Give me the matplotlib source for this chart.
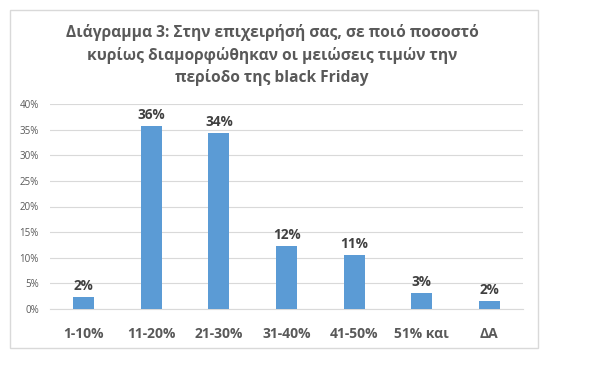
import matplotlib.pyplot as plt
from matplotlib.patches import Rectangle
from matplotlib.ticker import PercentFormatter

plt.rcParams['font.family'] = ['Open Sans', 'DejaVu Sans']

categories = ['1-10%', '11-20%', '21-30%', '31-40%', '41-50%', '51% και', 'ΔΑ']
values = [0.023, 0.357, 0.344, 0.123, 0.106, 0.031, 0.015]
labels = ['2%', '36%', '34%', '12%', '11%', '3%', '2%']
yticks = [0, 0.05, 0.10, 0.15, 0.20, 0.25, 0.30, 0.35, 0.40]

title = ('Διάγραμμα 3: Στην επιχειρήσή σας, σε ποιό ποσοστό\n'
         'κυρίως διαμορφώθηκαν οι μειώσεις τιμών την\n'
         'περίοδο της black Friday')

fig = plt.figure(figsize=(5.96, 3.69), dpi=100)
fig.patches.append(Rectangle((10 / 596, 1 - 348 / 369), 528 / 596, 338 / 369,
                             transform=fig.transFigure, fill=False,
                             edgecolor='#d9d9d9', linewidth=1))

ax = fig.add_axes([50 / 596, 1 - 309 / 369, 473 / 596, 205 / 369])
x = range(len(categories))
ax.bar(x, values, width=0.31, color='#5b9bd5', zorder=3)
for xi, v, lab in zip(x, values, labels):
    ax.text(xi, v + 0.008, lab, ha='center', va='bottom', fontsize=9.8,
            fontweight='bold', color='#404040')

ax.set_ylim(0, 0.40)
ax.set_xlim(-0.5, len(categories) - 0.5)
ax.set_yticks(yticks)
ax.yaxis.set_major_formatter(PercentFormatter(1.0, decimals=0))
ax.grid(axis='y', color='#d9d9d9', linewidth=0.8, zorder=0)
ax.set_xticks(list(x))
ax.set_xticklabels(categories, fontsize=10, fontweight='bold', color='#595959')
ax.tick_params(axis='y', labelsize=7, colors='#595959', length=0, pad=8)
ax.tick_params(axis='x', length=0, pad=13)
for side in ['top', 'right', 'left']:
    ax.spines[side].set_visible(False)
ax.spines['bottom'].set_color('#d9d9d9')

fig.text(272 / 596, 1 - 55 / 369, title, ha='center', va='center',
         fontsize=11.2, fontweight='bold', color='#595959', linespacing=1.45)

fig.savefig('out.png', dpi=100)
